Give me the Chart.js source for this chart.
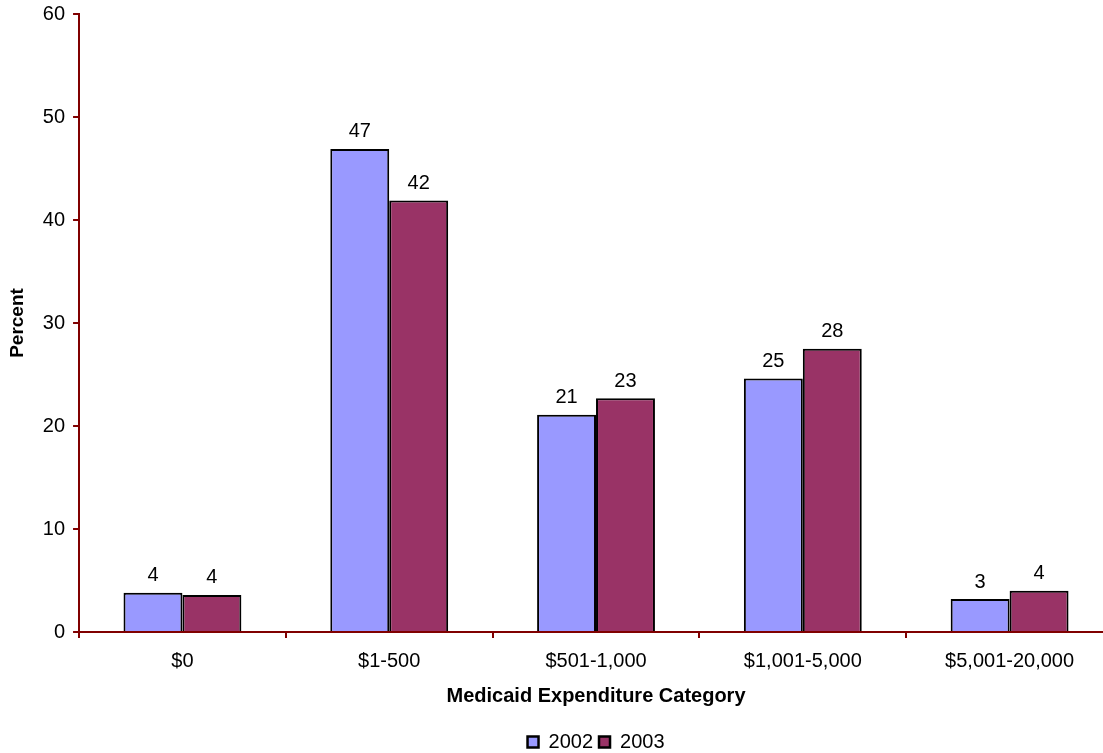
<!DOCTYPE html>
<html lang="en">
<head>
  <meta charset="UTF-8" />
  <title>Medicaid Expenditure</title>
  <script src="https://cdn.jsdelivr.net/npm/chart.js"></script>
  <style>
    html, body { margin: 0; padding: 0; background: #fff; overflow: hidden; }
    #wrap { width: 1120px; height: 768px; margin-top: -6px; position: relative; }
  </style>
</head>
<body>
  <div id="wrap">
    <canvas id="expChart"></canvas>
  </div>

  <script>
    const categories = ['$0', '$1-500', '$501-1,000', '$1,001-5,000', '$5,001-20,000'];
    const values2002 = [3.8, 46.9, 21.1, 24.6, 3.2];
    const values2003 = [3.6, 41.9, 22.7, 27.5, 4.0];
    const yTicks = [0, 10, 20, 30, 40, 50, 60];

    const axisRed = '#800000';
    const fontFamily = '"Liberation Sans", Arial, sans-serif';

    // labels over every bar
    const barLabels = {
      id: 'barLabels',
      afterDatasetsDraw(chart) {
        const ctx = chart.ctx;
        ctx.save();
        ctx.font = '20px ' + fontFamily;
        ctx.fillStyle = '#000';
        ctx.textAlign = 'center';
        ctx.textBaseline = 'middle';
        chart.data.datasets.forEach((ds, i) => {
          chart.getDatasetMeta(i).data.forEach((bar, j) => {
            ctx.fillText(Math.round(ds.data[j]), bar.x, bar.y - 17);
          });
        });
        ctx.restore();
      }
    };

    Chart.defaults.font.family = fontFamily;
    Chart.defaults.color = '#000';

    new Chart(document.getElementById('expChart').getContext('2d'), {
      type: 'bar',
      data: {
        labels: categories,
        datasets: [
          {
            label: '2002',
            data: values2002,
            backgroundColor: '#9999FF',
            borderColor: '#000',
            borderWidth: 2,
            borderSkipped: 'bottom'
          },
          {
            label: '2003',
            data: values2003,
            backgroundColor: '#993366',
            borderColor: '#000',
            borderWidth: 2,
            borderSkipped: 'bottom'
          }
        ]
      },
      options: {
        responsive: true,
        maintainAspectRatio: false,
        animation: false,
        categoryPercentage: 0.57,
        barPercentage: 1.0,
        layout: { padding: { top: 0, right: 7, bottom: 0, left: 6 } },
        plugins: {
          tooltip: { enabled: false },
          title: { display: false },
          legend: {
            position: 'bottom',
            fullSize: false,
            labels: {
              boxWidth: 11,
              boxHeight: 11,
              padding: 6,
              font: { size: 20 },
              generateLabels(chart) {
                return chart.data.datasets.map((ds, i) => ({
                  text: ds.label,
                  fillStyle: ds.backgroundColor,
                  strokeStyle: '#000',
                  lineWidth: 2.5,
                  datasetIndex: i
                }));
              }
            }
          }
        },
        scales: {
          x: {
            grid: {
              display: true,
              drawOnChartArea: false,
              drawTicks: true,
              tickLength: 6,
              color: axisRed,
              lineWidth: 2
            },
            border: { color: axisRed, width: 2 },
            ticks: { padding: 11, font: { size: 20 }, maxRotation: 0 },
            title: {
              display: true,
              text: 'Medicaid Expenditure Category',
              font: { size: 20, weight: 'bold' },
              padding: { top: 0, bottom: 18 }
            }
          },
          y: {
            min: 0,
            max: 60,
            afterBuildTicks(axis) {
              axis.ticks = yTicks.map(v => ({ value: v }));
            },
            grid: {
              display: true,
              drawOnChartArea: false,
              drawTicks: true,
              tickLength: 6,
              color: axisRed,
              lineWidth: 2
            },
            border: { color: axisRed, width: 2 },
            ticks: { padding: 8, font: { size: 20 } },
            title: {
              display: true,
              text: 'Percent',
              font: { size: 19, weight: 'bold' },
              padding: { top: 0, bottom: 6 }
            }
          }
        }
      },
      plugins: [barLabels]
    });
  </script>
</body>
</html>
